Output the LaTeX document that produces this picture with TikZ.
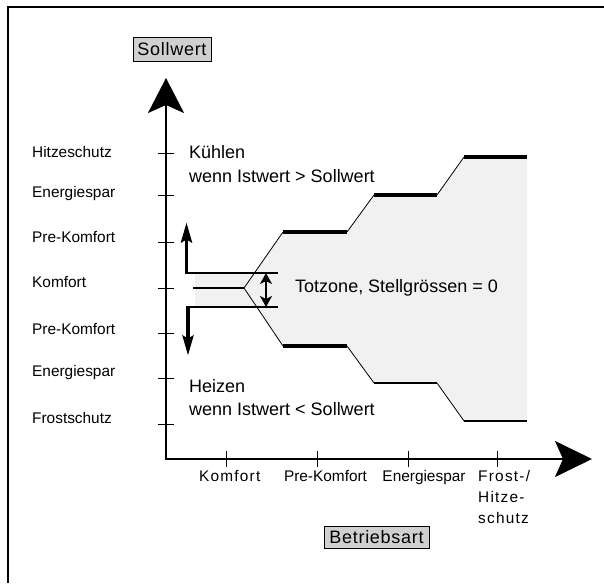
\documentclass[tikz,border=0pt]{standalone}
\usepackage{fontspec}
\setmainfont{Liberation Sans}
\usetikzlibrary{arrows.meta}
\definecolor{boxgray}{RGB}{208,208,208}
\definecolor{zonegray}{RGB}{241,241,241}
\begin{document}
\begin{tikzpicture}[x=1pt,y=-1pt,
  lab/.style={font=\fontsize{15.4}{18}\selectfont, inner sep=0pt, text height=0.72em, text depth=0pt},
  spaced/.style={font=\fontsize{15.4}{18}\selectfont\addfontfeature{LetterSpace=8}},
  big/.style={font=\fontsize{18}{22}\selectfont, inner sep=0pt, text height=0.72em, text depth=0pt, anchor=west},
  titlebox/.style={draw, line width=0.8pt, fill=boxgray, inner sep=0pt, font=\fontsize{18}{20}\selectfont\addfontfeature{LetterSpace=4}},
  axisline/.style={line width=2pt},
  tickline/.style={line width=0.8pt},
  thickstep/.style={line width=3.8pt},
  thinstep/.style={line width=1.8pt},
  slope/.style={line width=0.8pt},
  bigtips/.style={{Stealth[length=35pt,width=36pt,inset=8pt]}-{Stealth[length=37pt,width=36pt,inset=8pt]}},
  smalltip/.style={-{Stealth[length=20pt,width=11pt,inset=3pt]}},
  dztips/.style={{Stealth[length=11pt,width=12pt,inset=3pt]}-{Stealth[length=11pt,width=12pt,inset=3pt]}}
]
\useasboundingbox (0,0) rectangle (604,583);
% frame
\draw[line width=2.2pt] (8,583) -- (8,7) -- (604,7);

% key points of the zone
\coordinate (apex) at (244,288);
\coordinate (u1) at (283,232); \coordinate (u2) at (347,232);
\coordinate (u3) at (374,195); \coordinate (u4) at (437,195);
\coordinate (u5) at (464,157); \coordinate (u6) at (527,157);
\coordinate (d1) at (283,346); \coordinate (d2) at (347,346);
\coordinate (d3) at (374,383); \coordinate (d4) at (437,383);
\coordinate (d5) at (464,421); \coordinate (d6) at (527,421);

% gray zone
\fill[zonegray] (195,273) rectangle (256,307);
\fill[zonegray] (apex) -- (u1) -- (u2) -- (u3) -- (u4) -- (u5) -- (u6)
  -- (d6) -- (d5) -- (d4) -- (d3) -- (d2) -- (d1) -- cycle;

% slopes
\draw[slope] (d1) -- (apex) -- (u1);
\draw[slope] (u2) -- (u3) (u4) -- (u5);
\draw[slope] (d2) -- (d3) (d4) -- (d5);

% steps
\draw[thickstep] (u1) -- (u2) (u3) -- (u4) (u5) -- (u6) (d1) -- (d2);
\draw[thinstep] (d3) -- (d4) (d5) -- (d6);

% dead zone lines and arrows
\coordinate (upL) at (186.5,273); \coordinate (upR) at (278,273);
\coordinate (upBase) at (186.5,274); \coordinate (upTip) at (186.5,222.5);
\coordinate (loL) at (188,307); \coordinate (loR) at (278,307);
\coordinate (loBase) at (188,306); \coordinate (loTip) at (188,355.5);
\coordinate (midL) at (193,288);
\coordinate (dzTop) at (266,273); \coordinate (dzBot) at (266,307);
\draw[line width=2pt] (upR) -- (upL);
\draw[line width=3.5pt, smalltip] (upBase) -- (upTip);
\draw[line width=2pt] (loR) -- (loL);
\draw[line width=3.5pt, smalltip] (loBase) -- (loTip);
\draw[line width=2pt] (midL) -- (apex);
\draw[line width=1.8pt, dztips] (dzTop) -- (dzBot);

% axes
\coordinate (O) at (166,459);
\coordinate (ytip) at (166,78);
\coordinate (xtip) at (592,459);
\draw[axisline, bigtips] (ytip) -- (O) -- (xtip);

% ticks
\foreach \y in {153,195,242,288,333,378,424}
  \draw[tickline] (158,\y) -- (174,\y);
\foreach \x in {226.5,317,408,497}
  \draw[tickline] (\x,451) -- (\x,467);

% y labels
\node[lab, anchor=west] (yl1) at (32,153.5) {Hitzeschutz};
\node[lab, anchor=west] (yl2) at (32,194) {Energiespar};
\node[lab, anchor=west] (yl3) at (32,239) {Pre-Komfort};
\node[lab, anchor=west] (yl4) at (32,284) {Komfort};
\node[lab, anchor=west] (yl5) at (32,330.5) {Pre-Komfort};
\node[lab, anchor=west] (yl6) at (32,373) {Energiespar};
\node[lab, anchor=west] (yl7) at (32,419.5) {Frostschutz};

% x labels
\node[lab, spaced] (xl1) at (229.7,478) {Komfort};
\node[lab] (xl2) at (325.5,478) {Pre-Komfort};
\node[lab] (xl3) at (424,478) {Energiespar};
\node[lab, spaced, anchor=west] (xl4a) at (478,478) {Frost-/};
\node[lab, spaced, anchor=west] (xl4b) at (478,499) {Hitze-};
\node[lab, spaced, anchor=west] (xl4c) at (478,519.5) {schutz};

% texts
\node[big] (k1) at (189,155) {Kühlen};
\node[big] (k2) at (189,179) {wenn Istwert > Sollwert};
\node[big] (h1) at (189,388.5) {Heizen};
\node[big] (h2) at (189,411.5) {wenn Istwert < Sollwert};
\node[big] (tz) at (295,289) {Totzone, Stellgrössen = 0};

% axis titles
\node[titlebox, minimum width=78pt, minimum height=24pt] (soll) at (172,49) {Sollwert};
\node[titlebox, minimum width=105pt, minimum height=22pt] (betrieb) at (376.5,537.5) {Betriebsart};
\end{tikzpicture}
\end{document}
